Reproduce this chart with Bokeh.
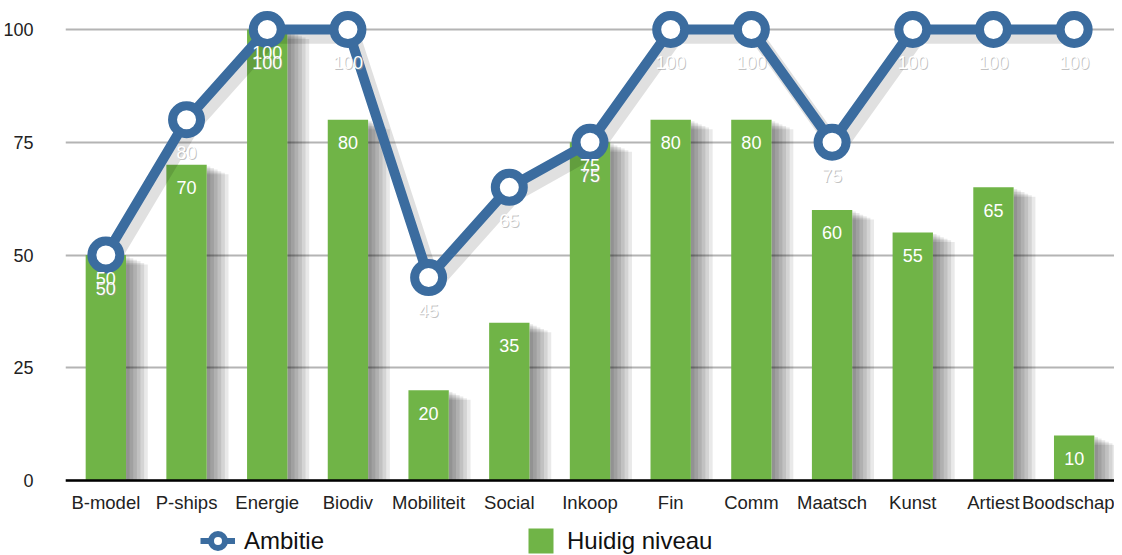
from bokeh.plotting import figure
from bokeh.models import Range1d, FixedTicker, Legend, LegendItem, ColumnDataSource
from bokeh.core.properties import value
from bokeh.embed import file_html
from bokeh.resources import INLINE

categories = ["B-model", "P-ships", "Energie", "Biodiv", "Mobiliteit", "Social", "Inkoop",
              "Fin", "Comm", "Maatsch", "Kunst", "Artiest", "Boodschap"]
huidig = [50, 70, 100, 80, 20, 35, 75, 80, 80, 60, 55, 65, 10]
ambitie = [50, 80, 100, 100, 45, 65, 75, 100, 100, 75, 100, 100, 100]
y_ticks = [0, 25, 50, 75, 100]

FONT = "Liberation Sans"
GREEN = "#70b447"
BLUE = "#3b6c9f"

xs = [i + 0.5 for i in range(len(categories))]
src = ColumnDataSource(dict(x=xs, h=huidig, a=ambitie,
                            hl=[str(v) for v in huidig], al=[str(v) for v in ambitie]))

# frame extends below zero to host the legend; x axis is pinned at y = 0
p = figure(frame_width=1049, frame_height=554, output_backend="svg", toolbar_location=None,
           x_range=Range1d(0, len(categories)), y_range=Range1d(-18.18, 104.66),
           min_border_left=57, min_border_right=0, min_border_top=8, min_border_bottom=0)
p.outline_line_color = None
p.background_fill_color = "white"
p.border_fill_color = "white"

# axes
p.xaxis.fixed_location = 0
p.xaxis.ticker = FixedTicker(ticks=xs)
p.xaxis.major_label_overrides = {x: c for x, c in zip(xs, categories)}
p.xaxis.major_tick_line_color = None
p.xaxis.minor_tick_line_color = None
p.xaxis.axis_line_color = "black"
p.xaxis.axis_line_width = 2.5
p.xaxis.major_label_text_font = FONT
p.xaxis.major_label_text_font_size = "18.5px"
p.xaxis.major_label_text_color = "#222222"
p.xaxis.major_label_standoff = 5

p.yaxis.ticker = FixedTicker(ticks=y_ticks)
p.yaxis.major_tick_line_color = None
p.yaxis.minor_tick_line_color = None
p.yaxis.axis_line_color = None
p.yaxis.major_label_text_font = FONT
p.yaxis.major_label_text_font_size = "18px"
p.yaxis.major_label_text_color = "#222222"
p.yaxis.major_label_standoff = 26

p.xgrid.grid_line_color = None
p.ygrid.grid_line_color = "#b4b4b4"
p.ygrid.grid_line_width = 2

# bar shadows
for k in range(1, 7):
    p.quad(left=[x + 0.25 for x in xs], right=[x + 0.25 + 0.045 * k for x in xs],
           top=[v - 0.35 * k for v in huidig], bottom=0,
           fill_color="black", fill_alpha=0.085, line_color=None)

bars = p.vbar(x="x", top="h", width=0.5, source=src, fill_color=GREEN, line_color=None)

# line shadow
p.line([x + 0.07 for x in xs], [v - 1.6 for v in ambitie], line_color="black",
       line_alpha=0.12, line_width=14)
ln = p.line("x", "a", source=src, line_color=BLUE, line_width=10)
sc = p.scatter("x", "a", source=src, size=28, marker="circle", fill_color="white",
               line_color=BLUE, line_width=9)

# labels
p.text("x", "h", text="hl", source=src, y_offset=23, text_align="center",
       text_baseline="middle", text_color="white", text_font=value(FONT),
       text_font_size="18px")
p.text("x", "a", text="al", source=src, y_offset=34, x_offset=1, text_align="center",
       text_baseline="middle", text_color="#9a9a9a", text_alpha=0.6, text_font=value(FONT),
       text_font_size="18px")
p.text("x", "a", text="al", source=src, y_offset=33, text_align="center",
       text_baseline="middle", text_color="white", text_font=value(FONT),
       text_font_size="18px")

# legend-only glyphs (not plotted: no data points)
nan = float("nan")
lg_line = p.line([nan], [nan], line_color=BLUE, line_width=6)
lg_ring = p.scatter([nan], [nan], size=14, marker="circle", fill_color="white",
                    line_color=BLUE, line_width=6)
lg_sq = p.scatter([nan], [nan], size=14, marker="square", fill_color=GREEN,
                  line_color=GREEN, line_width=11, line_join="miter")

legend = Legend(items=[LegendItem(label="Ambitie", renderers=[lg_line, lg_ring]),
                       LegendItem(label="Huidig niveau", renderers=[lg_sq])],
                orientation="horizontal", location=(135, 4), spacing=199,
                label_text_font=FONT, label_text_font_size="24px",
                label_text_color="#111111", glyph_width=35, glyph_height=35,
                label_standoff=9, padding=2, margin=0, border_line_color=None,
                background_fill_alpha=0)
p.add_layout(legend, "center")

open("out.html", "w").write(file_html(p, INLINE))
